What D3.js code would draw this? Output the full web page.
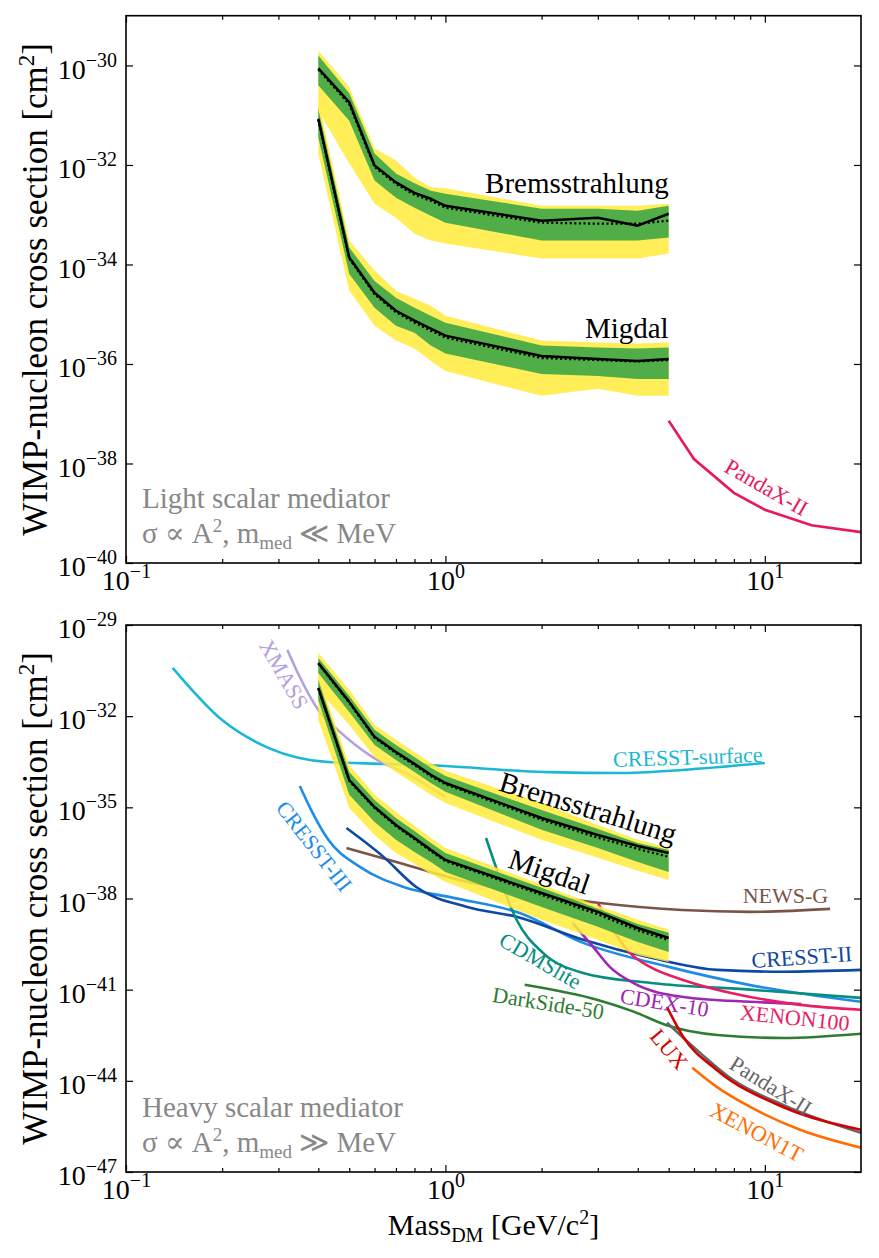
<!DOCTYPE html>
<html>
<head>
<meta charset="utf-8">
<script src="https://cdn.jsdelivr.net/npm/d3@7"></script>
<style>
body{margin:0;background:#fff;}
svg, svg text, svg tspan{font-family:"Liberation Serif","Tinos","Nimbus Roman","DejaVu Serif",serif;}
</style>
</head>
<body>
<svg id="chart" width="879" height="1258"></svg>
<script>
// masses [GeV] of the projected limits, values are log10(sigma / cm^2)
var bandMass = [0.4, 0.5, 0.6, 0.7, 0.8, 0.9, 1, 2, 3, 4, 5];

// light mediator
var lightBremsObs = [-30.06, -30.74, -32.01, -32.35, -32.56, -32.68, -32.82, -33.12, -33.06, -33.22, -32.98];
var lightBremsExp = [-30.08, -30.78, -32.04, -32.38, -32.60, -32.72, -32.86, -33.16, -33.18, -33.18, -33.12];
var lightBremsG1 = [[-30.40, -31.11, -32.31, -32.66, -32.86, -33.02, -33.16, -33.52, -33.52, -33.52, -33.46],
                    [-29.80, -30.56, -31.77, -32.17, -32.37, -32.52, -32.58, -32.88, -32.88, -32.92, -32.82]];
var lightBremsY2 = [[-30.91, -31.97, -32.78, -33.06, -33.38, -33.52, -33.58, -33.88, -33.88, -33.88, -33.78],
                    [-29.70, -30.44, -31.67, -31.91, -32.25, -32.45, -32.47, -32.82, -32.82, -32.82, -32.78]];
var lightMigdalObs = [-31.07, -33.86, -34.57, -34.93, -35.13, -35.29, -35.43, -35.84, -35.90, -35.94, -35.90];
var lightMigdalExp = [-31.09, -33.88, -34.60, -34.96, -35.17, -35.33, -35.47, -35.88, -35.92, -35.95, -35.92];
var lightMigdalG1 = [[-31.45, -34.19, -34.87, -35.23, -35.37, -35.63, -35.79, -36.20, -36.24, -36.30, -36.30],
                     [-30.87, -33.66, -34.33, -34.67, -34.87, -35.03, -35.17, -35.63, -35.67, -35.69, -35.67]];
var lightMigdalY2 = [[-31.77, -34.53, -35.23, -35.53, -35.69, -35.94, -36.14, -36.64, -36.50, -36.64, -36.64],
                     [-30.70, -33.52, -34.12, -34.53, -34.69, -34.83, -35.03, -35.53, -35.57, -35.59, -35.57]];
var pandaLightMass = [5, 6, 8, 10, 14, 20];
var pandaLightSigma = [-37.14, -37.91, -38.59, -38.93, -39.24, -39.38];

// heavy mediator
var heavyBremsObs = [-30.25, -31.53, -32.68, -33.18, -33.57, -33.93, -34.20, -35.35, -35.91, -36.27, -36.50];
var heavyBremsExp = [-30.27, -31.56, -32.71, -33.22, -33.61, -33.97, -34.24, -35.41, -36.00, -36.37, -36.63];
var heavyBremsG1 = [[-30.58, -31.86, -32.95, -33.44, -33.84, -34.20, -34.49, -35.74, -36.34, -36.80, -37.13],
                    [-30.09, -31.34, -32.45, -32.95, -33.34, -33.70, -33.97, -35.09, -35.71, -36.17, -36.40]];
var heavyBremsY2 = [[-31.14, -32.29, -33.34, -33.84, -34.23, -34.59, -34.86, -36.07, -36.66, -37.09, -37.39],
                    [-29.92, -31.14, -32.29, -32.78, -33.18, -33.54, -33.80, -34.86, -35.58, -36.07, -36.33]];
var heavyMigdalObs = [-31.07, -34.10, -34.99, -35.58, -36.01, -36.40, -36.73, -37.82, -38.44, -38.97, -39.30];
var heavyMigdalExp = [-31.09, -34.13, -35.02, -35.62, -36.05, -36.44, -36.77, -37.88, -38.52, -39.05, -39.37];
var heavyMigdalG1 = [[-31.47, -34.59, -35.48, -36.07, -36.47, -36.80, -37.13, -38.28, -38.93, -39.43, -39.76],
                     [-30.81, -33.84, -34.76, -35.35, -35.78, -36.17, -36.50, -37.65, -38.34, -38.84, -39.13]];
var heavyMigdalY2 = [[-32.13, -35.02, -35.91, -36.50, -36.86, -37.19, -37.45, -38.70, -39.36, -39.86, -40.09],
                     [-30.64, -33.61, -34.59, -35.15, -35.61, -36.01, -36.34, -37.55, -38.24, -38.70, -39.03]];

// other experiments, heavy mediator
var cresstSurfMass = [0.14, 0.2, 0.28, 0.43, 0.65, 1.0, 1.7, 2.1, 3.5, 5.5, 10];
var cresstSurfSigma = [-30.41, -32.13, -33.05, -33.51, -33.57, -33.64, -33.80, -33.84, -33.87, -33.77, -33.54];
var xmassMass = [0.32, 0.35, 0.4, 0.46, 0.59, 0.79, 1.0];
var xmassSigma = [-29.82, -30.71, -31.80, -32.45, -33.34, -34.00, -34.66];
var cresst3Mass = [0.35, 0.38, 0.43, 0.54, 0.74, 1.06, 1.7, 2.7, 5.0, 9.0, 20];
var cresst3Sigma = [-34.30, -35.09, -36.07, -36.96, -37.62, -37.98, -38.47, -39.46, -40.25, -40.85, -41.40];
var newsgMass = [0.49, 0.72, 0.92, 1.17, 3.0, 5.5, 9.0, 16];
var newsgSigma = [-36.34, -36.83, -37.16, -37.45, -38.14, -38.38, -38.44, -38.34];
var cresst2Mass = [0.49, 0.64, 0.81, 1.17, 1.68, 2.7, 4.4, 7.1, 11.4, 20];
var cresst2Sigma = [-35.68, -36.63, -37.62, -38.28, -38.61, -39.36, -39.95, -40.35, -40.41, -40.35];
var cdmsMass = [1.34, 1.45, 1.67, 2.02, 2.7, 4.4, 9.0, 20];
var cdmsSigma = [-36.01, -37.06, -38.70, -39.79, -40.45, -40.78, -41.00, -41.27];
var darksideMass = [1.77, 3.0, 3.9, 4.9, 7.1, 11.4, 20];
var darksideSigma = [-40.84, -41.34, -41.73, -42.16, -42.49, -42.59, -42.45];
var cdexMass = [2.5, 2.9, 3.27, 3.87, 5.55, 9.0, 13];
var cdexSigma = [-38.80, -39.59, -40.25, -40.78, -41.24, -41.40, -41.47];
var xenon100Mass = [3.0, 3.78, 4.37, 5.55, 9.0, 12.9, 20];
var xenon100Sigma = [-38.14, -39.79, -40.25, -40.68, -41.24, -41.50, -41.66];
var pandaMass = [4.94, 6.27, 7.95, 11.4, 20];
var pandaSigma = [-42.09, -43.08, -43.97, -44.79, -45.71];
var luxMass = [4.94, 5.55, 7.07, 11.4, 20];
var luxSigma = [-41.57, -42.55, -43.64, -44.86, -45.61];
var xenon1tMass = [5.93, 7.07, 9.0, 12.9, 20];
var xenon1tSigma = [-43.57, -44.20, -44.86, -45.61, -46.20];

// ticks
var massTicks = [0.1, 1, 10];
var massMinor = [0.2, 0.3, 0.4, 0.5, 0.6, 0.7, 0.8, 0.9, 2, 3, 4, 5, 6, 7, 8, 9];
var lightTicks = [-40, -38, -36, -34, -32, -30];
var heavyTicks = [-47, -44, -41, -38, -35, -32, -29];

(function(){
var _svg = d3.select('#chart'),
  _x = d3.scaleLog().domain([0.1, 20]).range([126, 861]),
  _font = '"Liberation Serif","Tinos","Nimbus Roman","DejaVu Serif",serif',
  _colors = {
    'CRESST-surface': '#1ab8d2', 'XMASS': '#b3a0dc', 'CRESST-III': '#1e8ce6',
    'NEWS-G': '#7a5547', 'CRESST-II': '#0f48a3', 'CDMSlite': '#078e80',
    'DarkSide-50': '#2e7d32', 'CDEX-10': '#9c27b0', 'XENON100': '#e91e63',
    'PandaX-II': '#666666', 'LUX': '#d30000', 'XENON1T': '#ff6d00', 'PandaX-light': '#e6195c'
  },
  pow = function(v){ return Math.pow(10, v); },
  expText = function(v){ return (v < 0 ? '\u2212' : '') + Math.abs(v); },
  powLabel = function(t, e){
    t.text('10').append('tspan').attr('dy', '-0.6em').attr('font-size', '20px').text(expText(e));
  },
  strip = function(a){
    a.attr('font-family', _font);
    a.select('.domain').remove();
    a.selectAll('line').attr('stroke', '#000').attr('stroke-width', 1.2);
  },
  drawAxes = function(g, y, ticks){
    var xr = _x.range(), yr = y.range(), yv = ticks.map(pow);
    g.append('g').attr('transform', 'translate(' + xr[0] + ',0)')
      .call(d3.axisLeft(y).tickValues(yv).tickSizeInner(-7).tickSizeOuter(0).tickPadding(9).tickFormat(''))
      .call(strip)
      .selectAll('text').attr('font-size', 28).attr('fill', '#000').attr('dy', '0.45em')
      .each(function(d){ powLabel(d3.select(this), Math.round(Math.log10(d))); });
    g.append('g').attr('transform', 'translate(' + xr[1] + ',0)')
      .call(d3.axisRight(y).tickValues(yv).tickSizeInner(-7).tickSizeOuter(0).tickFormat(''))
      .call(strip);
    [[d3.axisBottom, yr[0]], [d3.axisTop, yr[1]]].forEach(function(a, i){
      var major = g.append('g').attr('transform', 'translate(0,' + a[1] + ')')
        .call(a[0](_x).tickValues(massTicks).tickSizeInner(-7).tickSizeOuter(0).tickPadding(7).tickFormat(''))
        .call(strip);
      if(i === 0){
        major.selectAll('text').attr('font-size', 28).attr('fill', '#000')
          .each(function(d){ powLabel(d3.select(this), Math.round(Math.log10(d))); });
      }
      g.append('g').attr('transform', 'translate(0,' + a[1] + ')')
        .call(a[0](_x).tickValues(massMinor).tickSizeInner(-4).tickSizeOuter(0).tickFormat(''))
        .call(strip);
    });
    g.append('rect').attr('x', xr[0]).attr('y', yr[1])
      .attr('width', xr[1] - xr[0]).attr('height', yr[0] - yr[1])
      .attr('fill', 'none').attr('stroke', '#000').attr('stroke-width', 1.6);
  },
  drawBand = function(g, y, b){
    var pts = bandMass.map(function(m, i){ return {m: m, i: i}; }),
      area = function(lo, hi){
        return d3.area().x(function(d){ return _x(d.m); })
          .y0(function(d){ return y(pow(lo[d.i])); })
          .y1(function(d){ return y(pow(hi[d.i])); })(pts);
      },
      line = function(v){
        return d3.line().x(function(d){ return _x(d.m); })
          .y(function(d){ return y(pow(v[d.i])); })(pts);
      };
    g.append('path').attr('d', area(b.y2[0], b.y2[1])).attr('fill', '#ffeb3b').attr('fill-opacity', 0.85);
    g.append('path').attr('d', area(b.g1[0], b.g1[1])).attr('fill', '#43a847').attr('fill-opacity', 0.93);
    g.append('path').attr('d', line(b.exp)).attr('fill', 'none').attr('stroke', '#000')
      .attr('stroke-width', 2.3).attr('stroke-dasharray', '2,2.6');
    g.append('path').attr('d', line(b.obs)).attr('fill', 'none').attr('stroke', '#000')
      .attr('stroke-width', 2.5).attr('stroke-linejoin', 'round');
  },
  drawCurve = function(g, y, c){
    var pts = c.m.map(function(m, i){ return [m, c.s[i]]; });
    g.append('path')
      .attr('d', d3.line().curve(c.curve || d3.curveMonotoneX)
        .x(function(d){ return _x(d[0]); })
        .y(function(d){ return y(pow(d[1])); })(pts))
      .attr('fill', 'none').attr('stroke', _colors[c.key || c.name])
      .attr('stroke-width', 2.6).attr('stroke-linecap', 'butt');
  },
  drawLabel = function(g, y, l){
    var px = _x(l.m), py = y(pow(l.e));
    g.append('text').attr('transform', 'translate(' + px + ',' + py + ') rotate(' + (l.angle || 0) + ')')
      .attr('text-anchor', l.anchor || 'middle').attr('font-size', l.size || 22)
      .attr('fill', l.color ? l.color : _colors[l.key || l.text]).text(l.text);
  },
  drawNote = function(g, y, lines, sym){
    var x0 = _x.range()[0] + 16, yb = y.range()[0];
    g.append('text').attr('x', x0).attr('y', yb - 55).attr('font-size', 29).attr('fill', '#888').text(lines);
    var t = g.append('text').attr('x', x0).attr('y', yb - 20).attr('font-size', 29).attr('fill', '#888');
    t.append('tspan').text('\u03c3 \u221d A');
    t.append('tspan').attr('dy', -11).attr('font-size', 19).text('2');
    t.append('tspan').attr('dy', 11).text(', m');
    t.append('tspan').attr('dy', 6).attr('font-size', 19).text('med');
    t.append('tspan').attr('dy', -6).text(' ' + sym + ' MeV');
  },
  drawYLabel = function(y){
    var yr = y.range(),
      t = _svg.append('text').attr('transform', 'translate(47,' + (yr[0] + yr[1]) / 2 + ') rotate(-90)')
        .attr('text-anchor', 'middle').attr('font-size', 35).attr('fill', '#000');
    t.append('tspan').text('WIMP-nucleon cross section [cm');
    t.append('tspan').attr('dy', -13).attr('font-size', 23).text('2');
    t.append('tspan').attr('dy', 13).text(']');
  },
  drawPanel = function(p, idx){
    var g = _svg.append('g'),
      yr = p.y.range(), xr = _x.range(),
      clipId = 'clip' + idx;
    g.append('clipPath').attr('id', clipId).append('rect')
      .attr('x', xr[0]).attr('y', yr[1]).attr('width', xr[1] - xr[0]).attr('height', yr[0] - yr[1]);
    var plot = g.append('g').attr('clip-path', 'url(#' + clipId + ')');
    p.curves.forEach(function(c){ drawCurve(plot, p.y, c); });
    p.bands.forEach(function(b){ drawBand(plot, p.y, b); });
    p.labels.forEach(function(l){ drawLabel(g, p.y, l); });
    drawNote(g, p.y, p.note, p.sym);
    drawAxes(g, p.y, p.ticks);
    drawYLabel(p.y);
  },
  init = function(){
    _svg.attr('font-family', _font);
    var panels = [{
      y: d3.scaleLog().domain([1e-40, 1e-29]).range([563, 15.7]),
      ticks: lightTicks,
      note: 'Light scalar mediator', sym: '\u226a',
      bands: [
        {obs: lightBremsObs, exp: lightBremsExp, g1: lightBremsG1, y2: lightBremsY2},
        {obs: lightMigdalObs, exp: lightMigdalExp, g1: lightMigdalG1, y2: lightMigdalY2}
      ],
      curves: [{key: 'PandaX-light', m: pandaLightMass, s: pandaLightSigma, curve: d3.curveLinear}],
      labels: [
        {text: 'Bremsstrahlung', m: 5, e: -32.56, anchor: 'end', size: 29, color: '#000'},
        {text: 'Migdal', m: 5, e: -35.48, anchor: 'end', size: 29, color: '#000'},
        {text: 'PandaX-II', key: 'PandaX-light', m: 9.85, e: -38.61, angle: 30}
      ]
    }, {
      y: d3.scaleLog().domain([1e-47, 1e-29]).range([1172, 625]),
      ticks: heavyTicks,
      note: 'Heavy scalar mediator', sym: '\u226b',
      bands: [
        {obs: heavyBremsObs, exp: heavyBremsExp, g1: heavyBremsG1, y2: heavyBremsY2},
        {obs: heavyMigdalObs, exp: heavyMigdalExp, g1: heavyMigdalG1, y2: heavyMigdalY2}
      ],
      curves: [
        {name: 'CRESST-surface', m: cresstSurfMass, s: cresstSurfSigma},
        {name: 'XMASS', m: xmassMass, s: xmassSigma},
        {name: 'CRESST-III', m: cresst3Mass, s: cresst3Sigma},
        {name: 'NEWS-G', m: newsgMass, s: newsgSigma},
        {name: 'CRESST-II', m: cresst2Mass, s: cresst2Sigma},
        {name: 'CDMSlite', m: cdmsMass, s: cdmsSigma},
        {name: 'DarkSide-50', m: darksideMass, s: darksideSigma},
        {name: 'CDEX-10', m: cdexMass, s: cdexSigma},
        {name: 'XENON100', m: xenon100Mass, s: xenon100Sigma},
        {name: 'PandaX-II', m: pandaMass, s: pandaSigma},
        {name: 'LUX', m: luxMass, s: luxSigma},
        {name: 'XENON1T', m: xenon1tMass, s: xenon1tSigma}
      ],
      labels: [
        {text: 'Bremsstrahlung', m: 2.74, e: -35.32, angle: 17, size: 29, color: '#000'},
        {text: 'Migdal', m: 2.07, e: -37.42, angle: 19, size: 29, color: '#000'},
        {text: 'CRESST-surface', m: 5.75, e: -33.59, angle: -2},
        {text: 'XMASS', m: 0.298, e: -30.75, angle: 60},
        {text: 'CRESST-III', m: 0.372, e: -36.43, angle: 52},
        {text: 'NEWS-G', m: 11.6, e: -38.14},
        {text: 'CRESST-II', m: 13.1, e: -40.17, angle: -4},
        {text: 'CDMSlite', m: 1.93, e: -40.26, angle: 30},
        {text: 'DarkSide-50', m: 2.08, e: -41.69, angle: 9},
        {text: 'CDEX-10', m: 4.81, e: -41.67, angle: 9},
        {text: 'XENON100', m: 12.34, e: -42.17, angle: 6},
        {text: 'LUX', m: 4.81, e: -43.12, angle: 50},
        {text: 'PandaX-II', m: 10.15, e: -44.37, angle: 32},
        {text: 'XENON1T', m: 9.2, e: -45.91, angle: 28}
      ]
    }];
    panels.forEach(drawPanel);
    var xl = _svg.append('text').attr('x', (_x.range()[0] + _x.range()[1]) / 2).attr('y', 1235)
      .attr('text-anchor', 'middle').attr('font-size', 30).attr('fill', '#000');
    xl.append('tspan').text('Mass');
    xl.append('tspan').attr('dy', 7).attr('font-size', 20).text('DM');
    xl.append('tspan').attr('dy', -7).text(' [GeV/c');
    xl.append('tspan').attr('dy', -11).attr('font-size', 20).text('2');
    xl.append('tspan').attr('dy', 11).text(']');
  };
init();
})();
</script>
</body>
</html>
